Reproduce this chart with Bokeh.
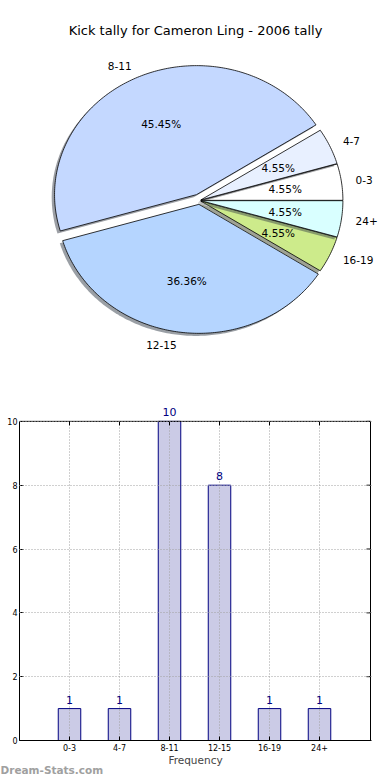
import numpy as np
from bokeh.plotting import figure
from bokeh.models import Range1d, LabelSet, ColumnDataSource, FixedTicker, Title
from bokeh.embed import file_html
from bokeh.resources import INLINE
from bokeh.core.properties import value

# ---- data ----
title_text = "Kick tally for Cameron Ling - 2006 tally"
categories = ["0-3", "4-7", "8-11", "12-15", "16-19", "24+"]
counts = [1, 1, 10, 8, 1, 1]
slice_colors = ["#ffffff", "#e8f0ff", "#c4d8ff", "#b5d5ff", "#cdeb8b", "#d9ffff"]
explode = [0.01, 0.01, 0.05, 0.03, 0.01, 0.01]
x_label = "Frequency"
watermark = "Dream-Stats.com"
y_ticks = [0, 2, 4, 6, 8, 10]
y_max = 10

FONT = "DejaVu Sans"
W = 390
H1 = 400
RX = 142.0
RY = 129.0
CX = 199.0
CY = 200.0

# ---- pie figure ----
p1 = figure(frame_width=W, frame_height=H1, title=None,
            x_range=Range1d(-CX / RX, (W - CX) / RX),
            y_range=Range1d(-(H1 - CY) / RY, CY / RY),
            x_axis_type=None, y_axis_type=None,
            output_backend="svg", toolbar_location=None,
            min_border=0, min_border_left=0, min_border_right=0,
            min_border_top=0, min_border_bottom=0)
p1.grid.visible = False
p1.outline_line_color = None
p1.background_fill_color = "white"


def shade(hexcol):
    h = hexcol.lstrip("#")
    r, g, b = (int(h[i:i + 2], 16) for i in (0, 2, 4))
    return "#%02x%02x%02x" % (int(r * 0.3), int(g * 0.3), int(b * 0.3))


total = float(sum(counts))
start = 0.0
lab_right = dict(x=[], y=[], t=[])
lab_left = dict(x=[], y=[], t=[])
pct = dict(x=[], y=[], t=[])
for cat, c, col, e in zip(categories, counts, slice_colors, explode):
    frac = c / total
    t0 = start
    t1 = start + frac * 2 * np.pi
    mid = 0.5 * (t0 + t1)
    ex, ey = e * np.cos(mid), e * np.sin(mid)
    th = np.linspace(t0, t1, max(int(frac * 400), 8))
    xs = np.concatenate([[ex], ex + np.cos(th)])
    ys = np.concatenate([[ey], ey + np.sin(th)])
    p1.patch(xs - 0.02, ys - 0.02, fill_color=shade(col), fill_alpha=0.5, line_color=None)
    p1.patch(xs, ys, fill_color=col, line_color="black", line_width=0.8)
    lx = ex + 1.1 * np.cos(mid)
    ly = ey + 1.1 * np.sin(mid)
    d = lab_right if lx > 0 else lab_left
    d["x"].append(lx); d["y"].append(ly); d["t"].append(cat)
    pct["x"].append(ex + 0.6 * np.cos(mid))
    pct["y"].append(ey + 0.6 * np.sin(mid))
    pct["t"].append("%.2f%%" % (100 * frac))
    start = t1

txt = dict(text_baseline="middle", text_font=value(FONT), text_font_size="10.5px", text_color="black")
p1.text(x=lab_right["x"], y=lab_right["y"], text=lab_right["t"], text_align="left", **txt)
p1.text(x=lab_left["x"], y=lab_left["y"], text=lab_left["t"], text_align="right", **txt)
p1.text(x=pct["x"], y=pct["y"], text=pct["t"], text_align="center", **txt)
p1.text(x=[(195 - CX) / RX], y=[(CY - 30) / RY], text=[title_text], text_align="center",
        text_baseline="middle", text_font=value(FONT), text_font_size="13px", text_color="black")

# ---- bar figure ----
pos = list(range(len(categories)))
X0, X1, XEND = -1.0, 6.02, 6.04
PXU_X = 50.0           # px per x unit
PXU_Y = 31.9           # px per y unit
Y_END = 10.56
FW = int(round((XEND - X0) * PXU_X))
p2 = figure(frame_width=FW, frame_height=int(round(Y_END * PXU_Y)),
            x_range=Range1d(X0, XEND), y_range=Range1d(0, Y_END), title=None,
            output_backend="svg", toolbar_location=None,
            min_border_left=19, min_border_right=W - 19 - FW,
            min_border_top=3, min_border_bottom=40)
p2.outline_line_color = None
p2.background_fill_color = "white"
p2.xgrid.visible = False

p2.vbar(x=pos, top=counts, width=0.45, bottom=0, fill_color="#cbcbe6",
        line_color="#000080", line_width=1)

GRID = dict(line_color="#a0a0a0", line_dash="1 2", line_width=1)
p2.ygrid.ticker = FixedTicker(ticks=y_ticks)
p2.ygrid.grid_line_color = GRID["line_color"]
p2.ygrid.grid_line_dash = GRID["line_dash"]
p2.ygrid.level = "annotation"
# vertical dotted grid lines at each category, drawn over the bars, limited to the box
p2.segment(x0=pos, y0=[0] * len(pos), x1=pos, y1=[y_max] * len(pos), **GRID)

# axes box (top and right edges) and inward ticks there
p2.quad(left=[X0], right=[X1], bottom=[0], top=[y_max], fill_color=None, line_color="black", line_width=1)
p2.segment(x0=pos, y0=[y_max] * len(pos), x1=pos, y1=[y_max - 4 / PXU_Y] * len(pos),
           line_color="black", line_width=1)
p2.segment(x0=[X1] * len(y_ticks), y0=y_ticks, x1=[X1 - 4 / PXU_X] * len(y_ticks), y1=y_ticks,
           line_color="black", line_width=1)

p2.xaxis.ticker = FixedTicker(ticks=pos)
p2.xaxis.major_label_overrides = {i: c for i, c in zip(pos, categories)}
p2.yaxis.ticker = FixedTicker(ticks=y_ticks)
p2.yaxis.bounds = (0, y_max)
for ax in (p2.xaxis, p2.yaxis):
    ax.major_tick_in = 4
    ax.major_tick_out = 0
    ax.minor_tick_line_color = None
    ax.axis_line_color = "black"
    ax.major_label_text_font = FONT
    ax.major_label_text_font_size = "8px"
    ax.major_label_text_color = "black"
p2.yaxis.major_label_standoff = 2
p2.xaxis.major_label_standoff = 3
p2.xaxis.axis_label = x_label
p2.xaxis.axis_label_text_font = FONT
p2.xaxis.axis_label_text_font_size = "10.5px"
p2.xaxis.axis_label_text_font_style = "normal"
p2.xaxis.axis_label_standoff = 0

src = ColumnDataSource(dict(x=pos, y=counts, t=[str(c) for c in counts]))
p2.add_layout(LabelSet(x="x", y="y", text="t", source=src, text_align="center",
                       text_baseline="bottom", y_offset=5, text_color="#000080",
                       text_font=value(FONT), text_font_size="11px"))

p2.add_layout(Title(text=watermark, align="left", offset=-19, standoff=-14,
                    text_color="#a0a0a0", text_font=FONT, text_font_style="bold",
                    text_font_size="10.5px"), "below")

open("out.html", "w").write(file_html([p1, p2], INLINE))
